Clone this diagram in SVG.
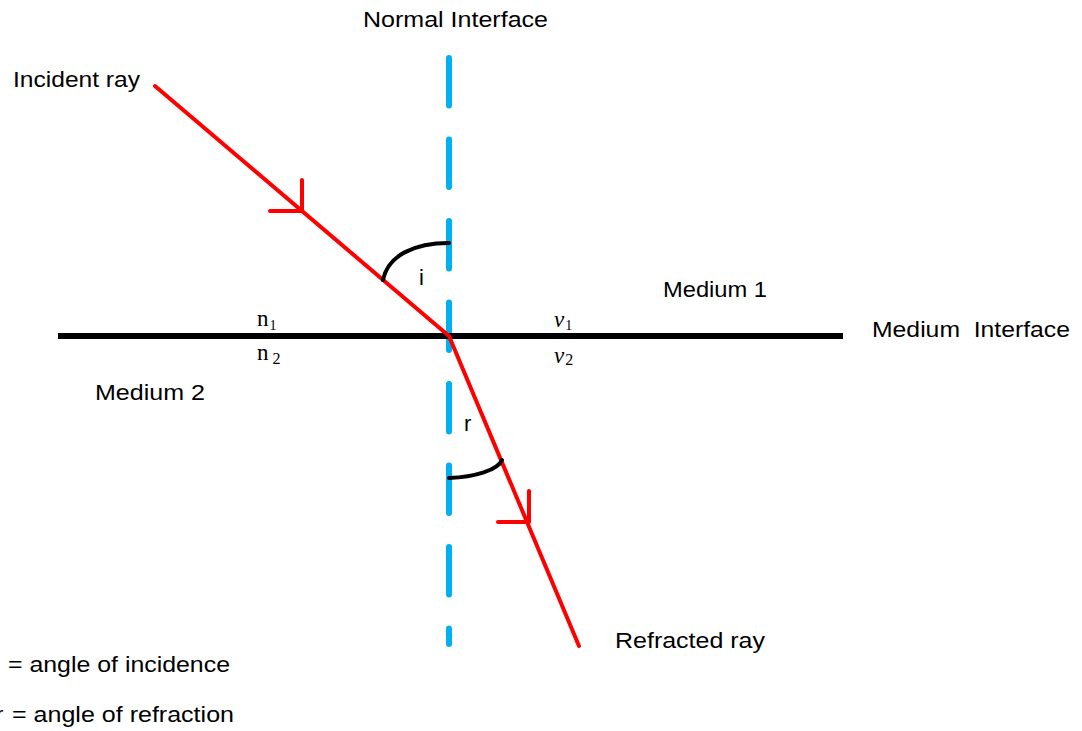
<svg xmlns="http://www.w3.org/2000/svg" width="1082" height="731" viewBox="0 0 1082 731">
<style>
.lbl{font-family:"Liberation Sans",Arial,sans-serif;font-size:22px;fill:#000;white-space:pre}
.tm{font-family:"Liberation Serif","Times New Roman",serif;fill:#000}
.ray{stroke:#FF0000;stroke-width:4;fill:none;stroke-linecap:round;stroke-linejoin:round}
.arc{stroke:#000;stroke-width:4;fill:none;stroke-linecap:round}
</style>
<rect width="1082" height="731" fill="#fff"/>
<g id="connectors">
  <line id="normal" x1="449" y1="58" x2="449" y2="644" stroke="#00B0F0" stroke-width="6" stroke-linecap="round" stroke-dasharray="47.5 34"/>
  <line id="interface" x1="58" y1="336" x2="843" y2="336" stroke="#000" stroke-width="6"/>
  <polyline id="rays" class="ray" points="155,86 449,336 579,646"/>
  <path class="ray" d="M302,180 V211 H270"/>
  <path class="ray" d="M529,491 V522 H498"/>
  <path id="arc-i" class="arc" d="M383,280 C388,255 415,243 449,243"/>
  <path id="arc-r" class="arc" d="M449,478 C475,477 498,470 502,460"/>
</g>
<g id="labels">
  <text class="lbl" x="363" y="27" textLength="185" lengthAdjust="spacingAndGlyphs">Normal Interface</text>
  <text class="lbl" x="13" y="87" textLength="127" lengthAdjust="spacingAndGlyphs">Incident ray</text>
  <text class="lbl" x="663" y="297" textLength="104" lengthAdjust="spacingAndGlyphs">Medium 1</text>
  <text class="lbl" x="872" y="337" textLength="198" lengthAdjust="spacingAndGlyphs">Medium  Interface</text>
  <text class="lbl" x="95" y="400" textLength="110" lengthAdjust="spacingAndGlyphs">Medium 2</text>
  <text class="lbl" x="615" y="648" textLength="150" lengthAdjust="spacingAndGlyphs">Refracted ray</text>
  <text class="lbl" x="419" y="285">i</text>
  <text class="lbl" x="464" y="431">r</text>
  <text class="lbl" y="672"><tspan x="-6">i</tspan><tspan x="8" textLength="222" lengthAdjust="spacingAndGlyphs">= angle of incidence</tspan></text>
  <text class="lbl" y="722"><tspan x="-4">r</tspan><tspan x="12" textLength="222" lengthAdjust="spacingAndGlyphs">= angle of refraction</tspan></text>
  <text class="tm" x="257" y="326" font-size="23">n<tspan font-size="14" dx="1" dy="4">1</tspan></text>
  <text class="tm" x="257" y="360" font-size="23">n<tspan font-size="16" dx="4" dy="4">2</tspan></text>
  <text class="tm" x="554" y="327" font-size="23" font-style="italic">v<tspan font-size="14" font-style="normal" dx="1" dy="3">1</tspan></text>
  <text class="tm" x="554" y="363" font-size="23" font-style="italic">v<tspan font-size="16" font-style="normal" dx="1" dy="2">2</tspan></text>
</g>
</svg>
